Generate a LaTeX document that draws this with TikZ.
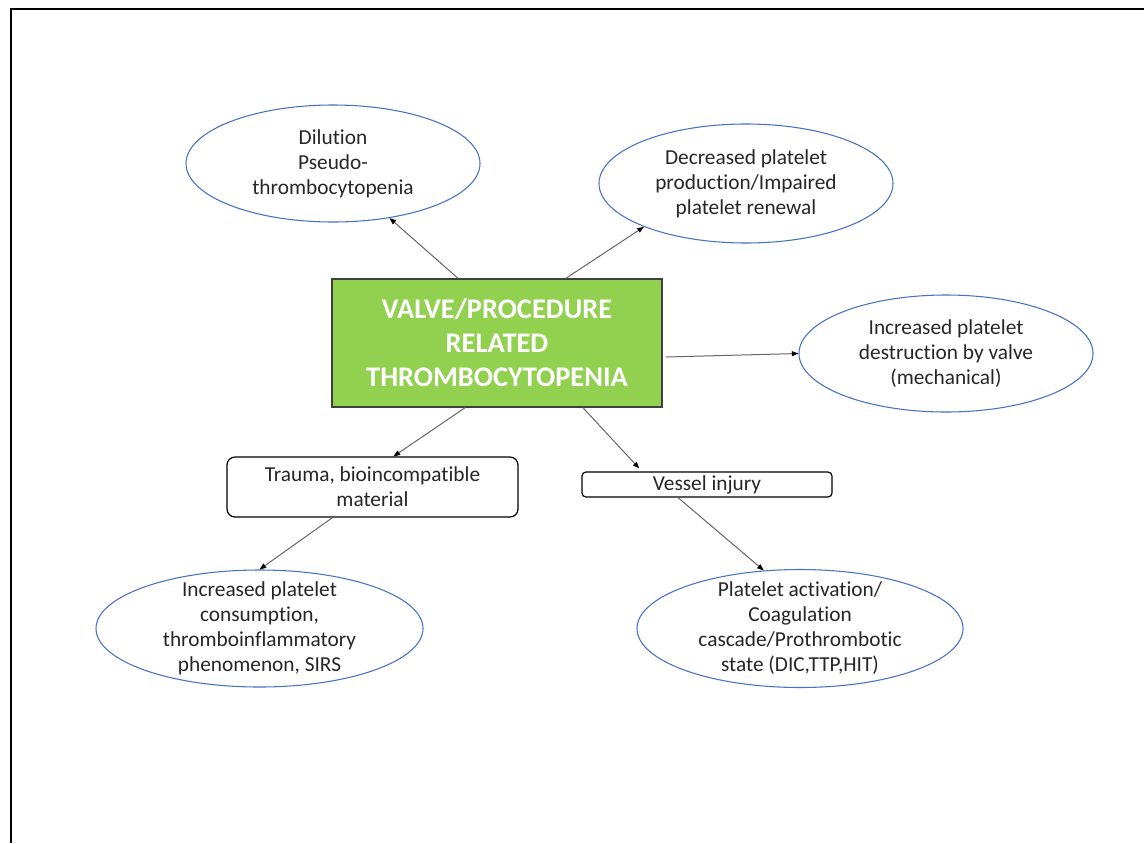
\documentclass[tikz,border=0pt]{standalone}
\usepackage{fontspec}
\setmainfont{Carlito}[Ligatures=NoCommon]
\usetikzlibrary{arrows.meta,calc,shapes.geometric}
\definecolor{ovalblue}{HTML}{4472C4}
\definecolor{leafgreen}{HTML}{92D050}
\definecolor{inkgray}{HTML}{262626}

\begin{document}
\begin{tikzpicture}[x=0.75pt,y=-0.75pt,
  oval/.style={ellipse, draw=ovalblue, line width=0.8pt, inner sep=0pt},
  txt/.style={align=center, font=\fontsize{16}{18.75}\selectfont, text=inkgray, inner sep=0pt},
  tag/.style={draw=black, line width=0.9pt, inner sep=0pt, align=center,
              font=\fontsize{16}{18.75}\selectfont, text=inkgray},
  mainbox/.style={draw=black!75, line width=1.1pt, fill=leafgreen, text=white,
              align=center, inner sep=0pt, font=\bfseries\fontsize{21.3}{25.5}\selectfont},
  link/.style={draw=black!60, line width=0.75pt,
              -{Triangle[length=5pt,width=3.75pt,fill=black,color=black]}}]

\useasboundingbox (0,0) rectangle (1144,843);
% page frame (top and left edges)
\draw[line width=1.9pt] (11,843) -- (11,9) -- (1144,9);

% central cause
\node[mainbox, minimum width=247.5pt, minimum height=96pt] (main) at (497,343)
  {VALVE/PROCEDURE\\RELATED\\THROMBOCYTOPENIA};

% mechanisms (ovals)
\node[oval, minimum width=220.5pt, minimum height=87.75pt] (e1) at (333,163.5) {};
\node[txt] (e1t) at (e1) {Dilution\\Pseudo-\\thrombocytopenia};

\node[oval, minimum width=220.5pt, minimum height=89.25pt] (e2) at (746,183.5) {};
\node[txt] (e2t) at (e2) {Decreased platelet\\production/Impaired\\platelet renewal};

\node[oval, minimum width=220.5pt, minimum height=87.75pt] (e3) at (946,353.5) {};
\node[txt] (e3t) at (e3) {Increased platelet\\destruction by valve\\(mechanical)};

\node[oval, minimum width=245.25pt, minimum height=87.75pt] (e4) at (259.5,628.5) {};
\node[txt] (e4t) at (e4) {Increased platelet\\consumption,\\thromboinflammatory\\phenomenon, SIRS};

\node[oval, minimum width=244.5pt, minimum height=88.5pt] (e5) at (800,628.5) {};
\node[txt] (e5t) at (e5) {Platelet activation/\\Coagulation\\cascade/Prothrombotic\\state (DIC,TTP,HIT)};

% intermediate factors (rounded boxes)
\node[tag, rounded corners=6pt, minimum width=218.25pt, minimum height=45pt] (trauma) at (372.5,487)
  {Trauma, bioincompatible\\material};
\node[tag, rounded corners=3pt, minimum width=187.5pt, minimum height=18.75pt] (vessel) at (707,484.5)
  {\raisebox{-1pt}{Vessel injury}};

% connectors
\draw[link] ($(main.north)+(-39,0)$) -- (e1.-44);
\draw[link] ($(main.north)+(69,0)$) -- (e2.-157);
\draw[link] ($(main.east)+(3,14)$) -- (e3.west);
\draw[link] ($(main.south)+(-32,0)$) -- ($(trauma.north)+(21,0)$);
\draw[link, shorten >=3pt] ($(main.south)+(86,0)$) -- ($(vessel.north)+(-65,0)$);
\draw[link] ($(trauma.south)+(-40,0)$) -- (e4.north);
\draw[link] ($(vessel.south)+(-29,0)$) -- (e5.122);
\end{tikzpicture}
\end{document}
